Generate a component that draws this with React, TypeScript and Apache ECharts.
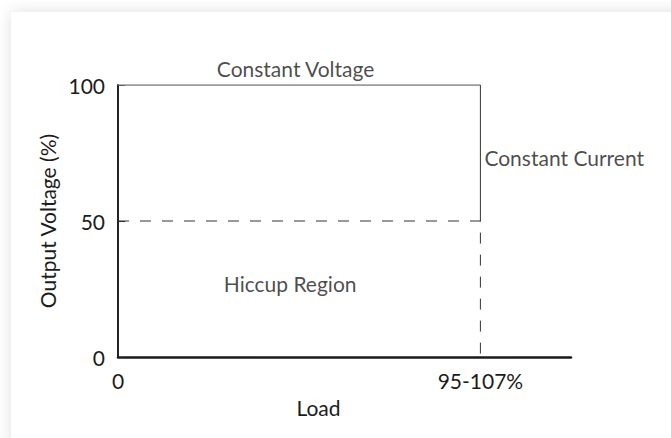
import React, { useEffect, useRef } from "react";
import * as echarts from "echarts";

const xTickLabels: Record<number, string> = { 0: "0", 100: "95-107%" };
const yTicks = [0, 50, 100];
const constantVoltage: number[][] = [
  [0, 100],
  [100, 100],
];
const constantCurrent: number[][] = [
  [100, 100],
  [100, 50],
];
const hiccupBoundary: number[][] = [
  [0, 50],
  [100, 50],
  [100, 0],
];
const annotations = [
  { name: "Constant Voltage", value: [49, 100], position: "top" },
  { name: "Constant Current", value: [100, 73.5], position: "right" },
  { name: "Hiccup Region", value: [47.5, 27], position: "inside" },
];

const FONT = "Lato, 'Open Sans', sans-serif";
const TEXT = "#1c1c1c";
const FS = 21;

export default function App() {
  const ref = useRef<HTMLDivElement>(null);
  useEffect(() => {
    if (!ref.current) return;
    const chart = echarts.init(ref.current, undefined, { renderer: "svg" });
    chart.setOption({
      animation: false,
      textStyle: { fontFamily: FONT },
      grid: { left: 118, top: 85, right: 100, bottom: 81, containLabel: false },
      xAxis: {
        type: "value",
        min: 0,
        max: 125,
        interval: 100,
        name: "Load",
        nameLocation: "middle",
        nameGap: 40,
        nameTextStyle: { fontSize: FS, color: TEXT, fontFamily: FONT, padding: [0, 52, 0, 0] },
        axisLine: { show: true, lineStyle: { color: "#1a1a1a", width: 2.5 } },
        axisTick: { show: false },
        splitLine: { show: false },
        axisLabel: {
          fontSize: FS,
          color: TEXT,
          fontFamily: FONT,
          margin: 13,
          showMaxLabel: false,
          formatter: (v: number) => xTickLabels[v] ?? "",
        },
      },
      yAxis: {
        type: "value",
        min: 0,
        max: 100,
        interval: 50,
        name: "Output Voltage (%)",
        nameLocation: "middle",
        nameGap: 58,
        nameTextStyle: { fontSize: FS, color: TEXT, fontFamily: FONT },
        axisLine: { show: true, lineStyle: { color: "#222", width: 2 } },
        axisTick: { show: true, inside: true, length: 7, lineStyle: { color: "#222", width: 1 } },
        splitLine: { show: false },
        axisLabel: {
          fontSize: FS,
          color: TEXT,
          fontFamily: FONT,
          margin: 13,
          formatter: (v: number) => (yTicks.includes(v) ? String(v) : ""),
        },
      },
      series: [
        {
          type: "line",
          data: constantVoltage,
          symbol: "none",
          lineStyle: { color: "#7a7a7a", width: 1.5 },
          z: 3,
        },
        {
          type: "line",
          data: constantCurrent,
          symbol: "none",
          lineStyle: { color: "#333", width: 1 },
          z: 3,
        },
        {
          type: "line",
          data: hiccupBoundary,
          symbol: "none",
          lineStyle: { color: "#333", width: 1, type: [11, 11] },
          z: 2,
        },
        {
          type: "scatter",
          symbolSize: 0,
          silent: true,
          data: annotations.map((a) => ({
            name: a.name,
            value: a.value,
            label: {
              show: true,
              position: a.position,
              distance: a.position === "top" ? 6 : 4,
              formatter: a.name,
              fontSize: FS,
              color: TEXT,
              fontFamily: FONT,
            },
          })),
        },
      ],
    });
    return () => chart.dispose();
  }, []);

  return (
    <div style={{ position: "fixed", left: 0, top: 0, width: 671, height: 438, background: "#fff", overflow: "hidden" }}>
      <div
        style={{
          position: "absolute",
          left: 11,
          top: 12,
          width: 720,
          height: 500,
          background: "#fff",
          boxShadow: "0 0 14px rgba(0,0,0,0.13)",
        }}
      />
      <div ref={ref} style={{ position: "absolute", left: 0, top: 0, width: 671, height: 438 }} />
    </div>
  );
}
